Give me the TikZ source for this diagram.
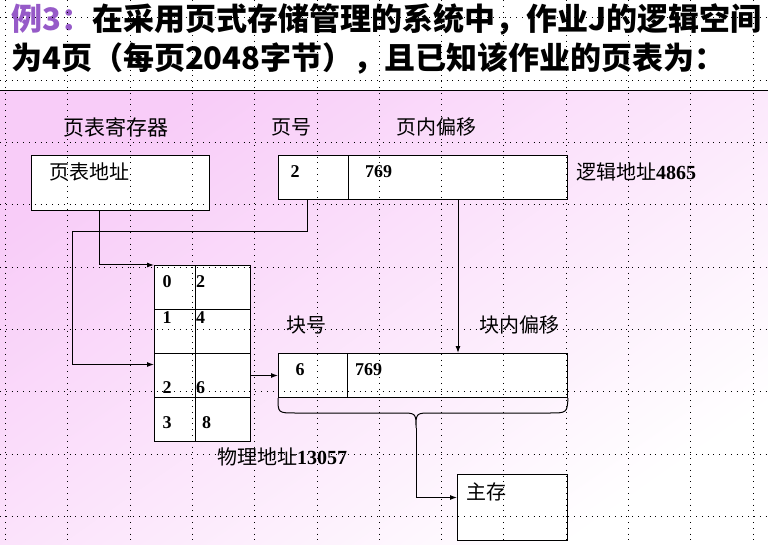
\documentclass[tikz,border=0pt]{standalone}
\usepackage{fontspec}
\setmainfont{Liberation Serif}
\newfontfamily\cjk{Noto Sans CJK SC}
\usepackage{tikz}
\usetikzlibrary{arrows.meta, calc}
\definecolor{ink}{RGB}{0,0,0}
\definecolor{heading}{RGB}{150,90,200}
\definecolor{pinkbg}{RGB}{248,204,248}
\tikzset{
  cell/.style    ={rectangle, draw=ink, fill=white, line width=1pt, inner sep=0pt},
  lbl/.style     ={font=\cjk\fontsize{20}{24}\selectfont, inner sep=0pt},
  num/.style     ={font=\bfseries\fontsize{18}{22}\selectfont, inner sep=0pt},
  titletxt/.style={font=\cjk\bfseries\fontsize{31}{36}\selectfont, inner sep=0pt, anchor=base west},
  arr/.style     ={-{Latex[length=7pt, width=5pt]}, line width=1pt, color=ink},
  plain/.style   ={line width=1pt, color=ink},
  gridline/.style={line width=1pt, dash pattern=on 1pt off 4.8pt, color=ink},
}

\begin{document}
\begin{tikzpicture}[x=1pt, y=-1pt]
\useasboundingbox (0,0) rectangle (768,545);
\fill[white] (0,0) rectangle (768,91);
\shade[top color=pinkbg, bottom color=white, shading angle=35] (0,91) rectangle (768,545);
\draw[line width=1.5pt] (0,90.5) -- (768,90.5);

% title
\node[titletxt] (title1) at (11,31) {{\color{heading}例3：}在采用页式存储管理的系统中，作业J的逻辑空间};
\node[titletxt] (title2) at (11,70) {为4页（每页2048字节），且已知该作业的页表为：};

% headings
\node[lbl, font=\cjk\fontsize{21}{24}\selectfont] (regtitle) at (116,127) {页表寄存器};
\node[lbl] (pnumtitle) at (291,127) {页号};
\node[lbl] (pofftitle) at (436,127) {页内偏移};

% page table register and logical address
\node[cell, minimum width=178pt, minimum height=55pt, anchor=north west] (preg) at (31,155) {};
\node[lbl, anchor=west] (pregv) at (49,172) {页表地址};
\node[cell, minimum width=70pt, minimum height=44pt, anchor=north west] (pnum) at (278,155) {};
\node[cell, minimum width=219pt, minimum height=44pt, anchor=north west] (poff) at (348,155) {};
\node[num] (pnumv) at (295,172) {2};
\node[num, anchor=west] (poffv) at (365,172) {769};
\node[lbl, anchor=west] (laddr) at (576,172) {逻辑地址{\normalfont\bfseries 4865}};

% page table
\foreach \r/\ya in {0/265, 1/309, 2/353, 3/397}{
  \node[cell, minimum width=41pt, minimum height=44pt, anchor=north west] (pt\r a) at (154,\ya) {};
  \node[cell, minimum width=55pt, minimum height=44pt, anchor=north west] (pt\r b) at (195,\ya) {};
}
\foreach \r/\f/\fx/\ty in {0/2/196/282, 1/4/196/318, 2/6/196/388, 3/8/202/423}{
  \node[num] (pk\r) at (167,\ty) {\r};
  \node[num, anchor=west] (pf\r) at (\fx,\ty) {\f};
}

% physical address
\node[lbl] (bnumtitle) at (306,325) {块号};
\node[lbl] (bofftitle) at (519,325) {块内偏移};
\node[cell, minimum width=69pt, minimum height=44pt, anchor=north west] (bnum) at (278,353) {};
\node[cell, minimum width=220pt, minimum height=44pt, anchor=north west] (boff) at (347,353) {};
\node[num] (bnumv) at (300,370) {6};
\node[num, anchor=west] (boffv) at (355,370) {769};
\node[lbl, anchor=west] (paddr) at (217,457) {物理地址{\normalfont\bfseries 13057}};

% main memory
\node[cell, minimum width=110pt, minimum height=66pt, anchor=north west] (mem) at (457,474) {};
\node[lbl, anchor=west] (memv) at (466,492) {主存};

% connectors
\draw[arr] ([xshift=-21pt]preg.south) |- (pt0a.north west);
\draw[arr] ([xshift=-6pt]pnum.south) |- (72,232) |- ([yshift=11pt]pt2a.west);
\draw[arr] (poff.south) -- (poff.south |- boff.north);
\draw[arr] (pt2b.east) -- (bnum.west);
\coordinate (brtip) at (416,428);
\draw[plain] (bnum.south west) .. controls (278,413) .. (296,413) -- (400,413)
  .. controls (416,413) .. (brtip) .. controls (416,413) .. (432,413) -- (549,413)
  .. controls (567,413) .. (boff.south east);
\draw[arr] (brtip) |- ([yshift=10pt]mem.west);

% dotted grid
\foreach \gx in {0,...,12}
  \draw[gridline] ({5.5+62.3*\gx},0) -- ({5.5+62.3*\gx},545);
\foreach \gy in {0,...,8}
  \draw[gridline] (0,{18+62.3*\gy}) -- (768,{18+62.3*\gy});
\end{tikzpicture}
\end{document}
